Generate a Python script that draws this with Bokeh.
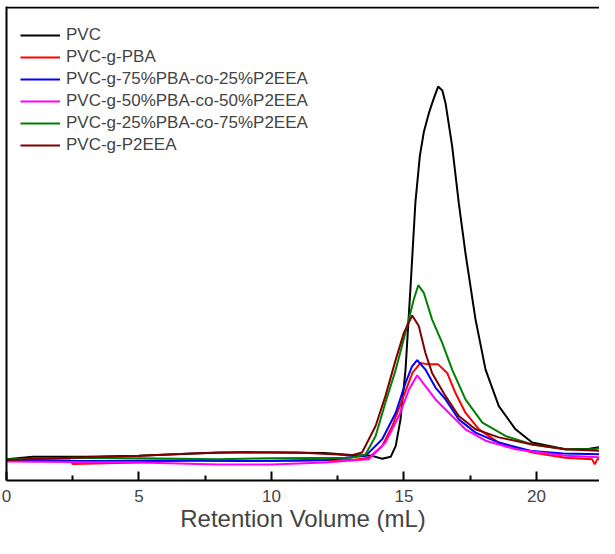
from bokeh.plotting import figure
from bokeh.models import LinearAxis, FixedTicker, Legend, LegendItem, Range1d, Span
from bokeh.layouts import gridplot
from bokeh.embed import file_html
from bokeh.resources import INLINE

# Retention volume (mL) and detector response (arbitrary units, 0-100)
pvc_x = [0.0, 1.0, 3.0, 5.0, 8.0, 10.0, 12.0, 13.0, 13.8, 14.18, 14.5, 14.69, 14.87, 15.06, 15.25, 15.43, 15.6, 15.75, 15.94, 16.12, 16.29, 16.45, 16.57, 16.82, 17.07, 17.32, 17.70, 18.08, 18.58, 19.21, 19.84, 21.09, 22.0, 22.7]
pvc_y = [4.5, 5.0, 5.0, 5.2, 5.9, 5.9, 5.8, 5.4, 5.2, 4.6, 5.0, 7.3, 12.9, 23.4, 41.0, 58.5, 68.5, 73.5, 77.5, 80.5, 83.1, 82.3, 79.6, 70.5, 58.5, 48.0, 34.0, 23.4, 15.7, 10.8, 8.0, 6.6, 6.7, 7.3]

pba_x = [0.0, 2.4, 2.5, 5.0, 7.0, 10.0, 13.0, 13.67, 14.18, 14.56, 14.94, 15.32, 15.62, 15.94, 16.29, 16.63, 16.94, 17.32, 17.83, 18.58, 19.84, 21.09, 22.1, 22.2, 22.3, 22.7]
pba_y = [4.2, 4.2, 3.5, 3.8, 4.3, 4.1, 4.3, 4.8, 7.3, 11.5, 17.1, 22.7, 24.8, 24.5, 24.5, 22.7, 18.5, 14.3, 10.8, 8.0, 5.9, 4.8, 4.5, 3.4, 4.5, 4.6]

p75_x = [0.0, 3.0, 6.0, 9.0, 12.0, 13.55, 14.18, 14.69, 15.06, 15.30, 15.50, 15.81, 16.19, 16.57, 17.07, 17.70, 18.58, 19.84, 21.0, 22.7]
p75_y = [4.3, 4.1, 4.2, 4.1, 4.3, 5.2, 8.7, 14.3, 20.6, 24.0, 25.4, 23.4, 19.6, 17.1, 12.9, 10.1, 8.0, 6.2, 5.7, 5.5]

p50_x = [0.0, 5.0, 8.0, 10.0, 12.0, 13.67, 14.30, 14.81, 15.19, 15.50, 15.81, 16.19, 16.69, 17.32, 18.08, 19.21, 21.09, 22.7]
p50_y = [4.0, 3.8, 3.4, 3.4, 3.8, 4.5, 8.0, 13.6, 19.2, 22.2, 19.9, 17.1, 14.3, 10.8, 8.4, 6.6, 5.2, 4.8]

p25_x = [0.0, 2.5, 5.0, 8.0, 10.0, 13.0, 13.55, 13.93, 14.30, 14.69, 15.06, 15.37, 15.54, 15.75, 16.06, 16.44, 16.82, 17.32, 17.96, 18.83, 19.84, 21.09, 22.2, 22.7]
p25_y = [4.5, 4.8, 4.7, 4.5, 4.7, 4.8, 5.5, 9.4, 16.4, 23.4, 31.2, 38.2, 41.2, 39.6, 34.0, 29.1, 23.4, 17.1, 12.2, 9.4, 7.6, 6.6, 6.6, 7.4]

p2eea_x = [0.0, 2.5, 5.0, 7.0, 9.0, 11.0, 12.5, 13.0, 13.42, 13.93, 14.30, 14.69, 15.0, 15.31, 15.56, 15.81, 16.06, 16.57, 17.07, 17.70, 18.58, 19.84, 21.09, 22.7]
p2eea_y = [4.3, 4.8, 5.2, 5.7, 6.0, 5.9, 5.5, 5.3, 5.9, 11.5, 17.8, 25.5, 31.2, 34.8, 32.6, 26.9, 22.7, 17.8, 13.6, 10.8, 9.1, 7.6, 6.6, 6.2]

series_names = ["PVC", "PVC-g-PBA", "PVC-g-75%PBA-co-25%P2EEA", "PVC-g-50%PBA-co-50%P2EEA", "PVC-g-25%PBA-co-75%P2EEA", "PVC-g-P2EEA"]
series_x = [pvc_x, pba_x, p75_x, p50_x, p25_x, p2eea_x]
series_y = [pvc_y, pba_y, p75_y, p50_y, p25_y, p2eea_y]
colors = ["#000000", "#FF0000", "#0000FF", "#FF00FF", "#008000", "#800000"]

x_ticks = [0, 5, 10, 15, 20]
x_minor = [2.5, 7.5, 12.5, 17.5, 22.5]
x_title = "Retention Volume (mL)"
Y_TOP = 100

FONT = "Liberation Sans"

p = figure(width=599, height=538, output_backend="svg", toolbar_location=None,
           x_range=Range1d(0, 22.38), y_range=Range1d(0, Y_TOP),
           y_axis_location=None, min_border_left=6, min_border_top=6,
           min_border_right=0, min_border_bottom=58)
p.outline_line_color = None
p.grid.visible = False

ax = p.xaxis[0]
ax.ticker = FixedTicker(ticks=x_ticks, minor_ticks=x_minor)
ax.axis_line_width = 2
ax.major_tick_line_width = 2
ax.minor_tick_line_width = 2
ax.major_tick_in = 9
ax.major_tick_out = 0
ax.minor_tick_in = 5
ax.minor_tick_out = 0
ax.major_label_text_font = FONT
ax.major_label_text_font_size = "17px"
ax.major_label_standoff = 9
ax.axis_label = x_title
ax.axis_label_text_font = FONT
ax.axis_label_text_font_size = "24px"
ax.axis_label_text_font_style = "normal"
ax.axis_label_standoff = 0

left = LinearAxis(ticker=FixedTicker(ticks=[50]), major_label_text_font_size="1px",
                  major_label_text_color=None, major_tick_line_color=None,
                  major_tick_out=0, major_tick_in=0, minor_tick_out=0, minor_tick_in=0,
                  major_label_standoff=0, axis_line_width=2)
p.add_layout(left, "left")

# top frame line
p.add_layout(Span(location=Y_TOP - 0.2, dimension="width", line_color="black", line_width=2))

items = []
for name, xs, ys, c in zip(series_names, series_x, series_y, colors):
    r = p.line(xs, ys, line_color=c, line_width=2)
    items.append(LegendItem(label=name, renderers=[r]))

legend = Legend(items=items, location=(14, 324), padding=0, margin=0, spacing=0,
                glyph_width=40, glyph_height=22, label_height=22, label_standoff=6,
                label_text_font=FONT, label_text_font_size="17px",
                border_line_color=None, background_fill_alpha=0)
p.add_layout(legend, "center")

g = gridplot([[p]], toolbar_location=None)
open("out.html", "w").write(file_html(g, INLINE))
